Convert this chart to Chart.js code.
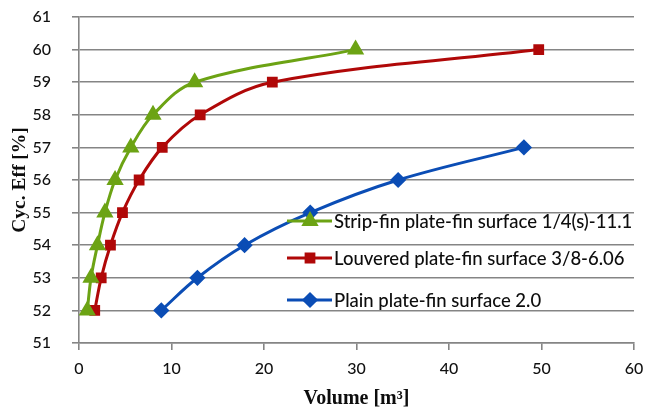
<!DOCTYPE html>
<html>
<head>
<meta charset="utf-8">
<script src="https://cdn.jsdelivr.net/npm/chart.js@4.4.1/dist/chart.umd.min.js"></script>
<style>
  html, body { margin:0; padding:0; background:#fff; }
  #wrap { width:646px; height:411px; position:relative; }
</style>
</head>
<body>
<div id="wrap"><canvas id="effChart" width="646" height="411"></canvas></div>
<script>
// cycle efficiency [%] vs exchanger volume [m3]
const effLevels   = [52, 53, 54, 55, 56, 57, 58, 59, 60];
const stripVolume = [0.9, 1.3, 2.0, 2.8, 3.9, 5.6, 8.0, 12.5, 29.9];
const louvVolume  = [1.7, 2.4, 3.4, 4.7, 6.5, 9.0, 13.1, 20.9, 49.7];
const plainEff    = [52, 53, 54, 55, 56, 57];
const plainVolume = [8.9, 12.8, 17.9, 25.0, 34.5, 48.1];

const seriesNames = [
  'Strip-fin plate-fin surface 1/4(s)-11.1',
  'Louvered plate-fin surface 3/8-6.06',
  'Plain plate-fin surface 2.0'
];
const xTicks = [0, 10, 20, 30, 40, 50, 60];
const yTicks = [51, 52, 53, 54, 55, 56, 57, 58, 59, 60, 61];

const GREEN = '#6ca314', RED = '#b00808', BLUE = '#0b4db5';
const tickFont = { family:'Lato, "Open Sans", sans-serif', size:16, weight:'500' };
const serif = '"Liberation Serif", "DejaVu Serif", serif';

function pts(xs, ys){ return xs.map(function(x, i){ return { x:x, y:ys[i] }; }); }

function series(label, data, color, shape, r){
  return {
    label: label, data: data, showLine: true,
    borderColor: color, backgroundColor: color, borderWidth: 3,
    pointStyle: shape, pointRadius: r, pointHoverRadius: r,
    pointBorderColor: color, pointBackgroundColor: color,
    tension: 0.35
  };
}

// legend sits inside the plot, lower right
const innerLegend = {
  id: 'innerLegend',
  afterDatasetsDraw(chart){
    const ctx = chart.ctx, a = chart.chartArea;
    const x0 = a.left + 208, rows = [a.top + 204, a.top + 241, a.top + 283];
    chart.data.datasets.forEach(function(ds, i){
      const y = rows[i];
      ctx.save();
      ctx.strokeStyle = ds.borderColor; ctx.lineWidth = 3;
      ctx.beginPath(); ctx.moveTo(x0, y); ctx.lineTo(x0 + 45, y); ctx.stroke();
      Chart.helpers.drawPoint(ctx, { pointStyle: ds.pointStyle, radius: ds.pointRadius, borderWidth: 1 }, x0 + 23, y);
      ctx.fillStyle = ds.borderColor; ctx.fill();
      ctx.fillStyle = '#0d0d0d';
      ctx.font = '500 18.5px Lato, "Open Sans", sans-serif';
      ctx.textBaseline = 'middle';
      ctx.fillText(ds.label, x0 + 47, y + 1);
      ctx.restore();
    });
  }
};

new Chart(document.getElementById('effChart'), {
  type: 'scatter',
  data: {
    datasets: [
      series(seriesNames[0], pts(stripVolume, effLevels), GREEN, 'triangle', 7),
      series(seriesNames[1], pts(louvVolume, effLevels), RED, 'rect', 5.5),
      series(seriesNames[2], pts(plainVolume, plainEff), BLUE, 'rectRot', 6)
    ]
  },
  options: {
    responsive: false, animation: false,
    layout: { padding: { left: 0, right: 12, top: 17, bottom: 0 } },
    plugins: { legend: { display:false }, tooltip: { enabled:false } },
    scales: {
      x: {
        type: 'linear', min: 0, max: 60,
        afterBuildTicks(s){ s.ticks = xTicks.map(function(v){ return { value:v }; }); },
        afterFit(s){ s.height = 68; s.paddingLeft = 0; s.paddingRight = 0; },
        grid: { drawOnChartArea:false, drawTicks:true, tickLength:7, color:'#858585', lineWidth:1.6 },
        border: { color:'#858585', width:1.6 },
        ticks: { color:'#111', font: tickFont, padding: 9 },
        title: { display:true, text:'Volume [m³]', color:'#0d0d0d', font:{ family: serif, size:20, weight:'bold' }, padding:{ top:2, bottom:0 } }
      },
      y: {
        type: 'linear', min: 51, max: 61,
        afterBuildTicks(s){ s.ticks = yTicks.map(function(v){ return { value:v }; }); },
        afterFit(s){ s.width = 79; s.paddingTop = 0; s.paddingBottom = 0; },
        grid: { color:'#858585', lineWidth:1.6, tickLength:7 },
        border: { color:'#858585', width:1.6 },
        ticks: { color:'#111', font: tickFont, padding: 21 },
        title: { display:true, text:'Cyc. Eff [%]', color:'#0d0d0d', font:{ family: serif, size:19.5, weight:'bold' }, padding:{ top:8, bottom:0 } }
      }
    }
  },
  plugins: [innerLegend]
});
</script>
</body>
</html>
